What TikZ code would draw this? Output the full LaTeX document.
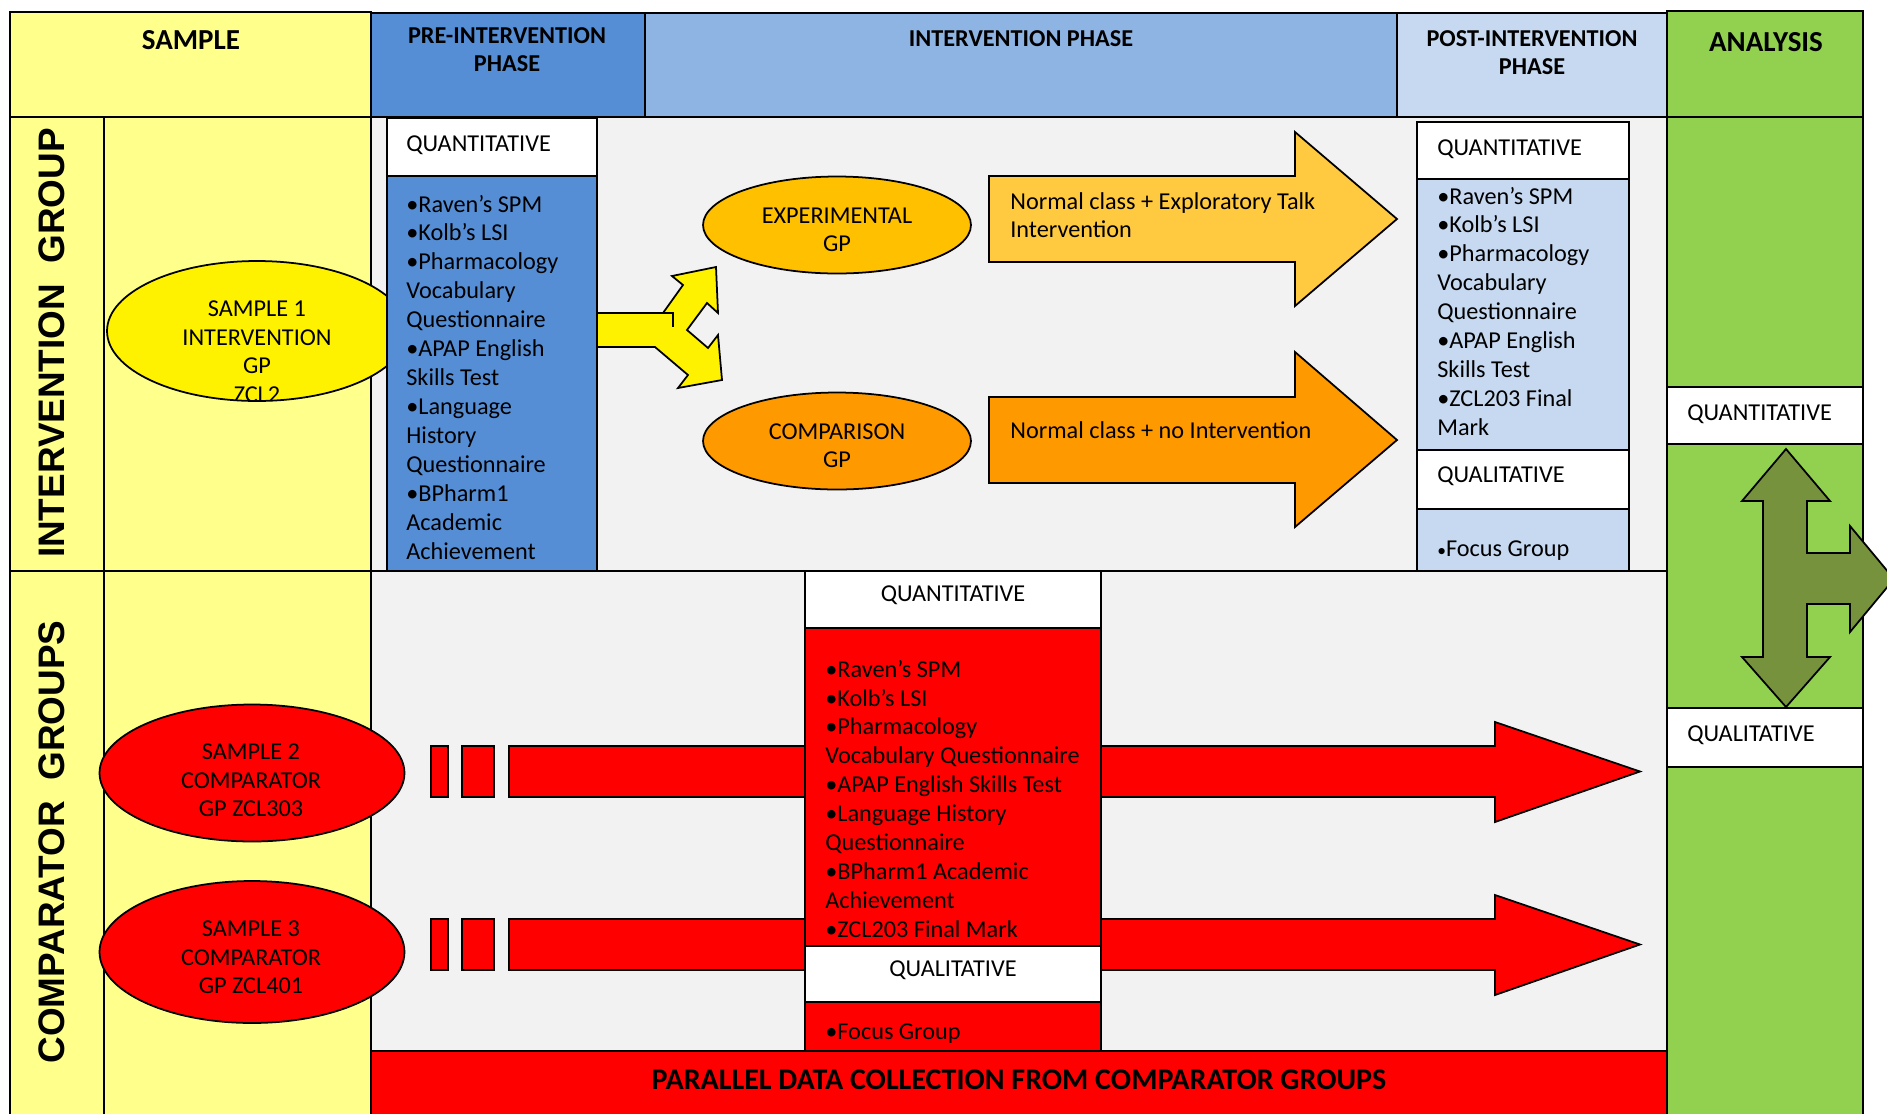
\documentclass[tikz,border=0pt]{standalone}
\usepackage{fontspec}
\setmainfont{Carlito}
\newfontfamily\arialfont{Liberation Sans}
\usetikzlibrary{shapes.geometric}

\definecolor{paleyellow}{HTML}{FFFF8C}
\definecolor{preblue}{HTML}{558ED5}
\definecolor{midblue}{HTML}{8EB4E3}
\definecolor{paleblue}{HTML}{C6D9F1}
\definecolor{panelgray}{HTML}{F2F2F2}
\definecolor{grassgreen}{HTML}{92D050}
\definecolor{olivegreen}{HTML}{76923C}
\definecolor{amber}{HTML}{FFC000}
\definecolor{lightamber}{HTML}{FFC940}
\definecolor{deeporange}{HTML}{FF9900}

\newcommand\txtsize{\fontsize{13.8}{16.5}\selectfont}
\newcommand\headsize{\fontsize{13.8}{15.8}\selectfont\bfseries}
\newcommand\bigsize{\fontsize{16.5}{19}\selectfont\bfseries}
\newcommand\vertsize{\arialfont\bfseries\fontsize{21}{24}\selectfont}

\begin{document}
\begin{tikzpicture}[x=0.02cm, y=-0.02cm,
    grid/.style={draw=black, line width=1.3pt},
    box/.style={draw=black, line width=1pt},
    oval/.style={ellipse, draw=black, line width=1pt, inner sep=0pt},
    txt/.style={font=\txtsize, inner sep=0pt, execute at begin node={\spaceskip=.226em\xspaceskip=.226em\relax}},
    lst/.style={txt, anchor=base west, text width=9cm, align=left},
    ctr/.style={txt, anchor=base, text width=7cm, align=center},
    ttl/.style={font=\headsize, align=center, inner sep=0pt},
    vlabel/.style={font=\vertsize, rotate=90, inner sep=0pt}]

    \useasboundingbox (0,0) rectangle (1887,1113);
    \fill[white] (0,0) rectangle (1887,1113);

    % header row
    \draw[grid, fill=paleyellow] (10,12) rectangle (371,117);
    \draw[grid, fill=preblue] (371,13) rectangle (645,117);
    \draw[grid, fill=midblue] (645,13) rectangle (1397,117);
    \draw[grid, fill=paleblue] (1397,13) rectangle (1667,117);
    \draw[grid, fill=grassgreen] (1667,11) rectangle (1863,117);

    % left columns
    \draw[grid, fill=paleyellow] (10,117) rectangle (104,571);
    \draw[grid, fill=paleyellow] (104,117) rectangle (371,571);
    \draw[grid, fill=paleyellow] (10,571) rectangle (104,1120);
    \draw[grid, fill=paleyellow] (104,571) rectangle (371,1120);

    % panels
    \draw[grid, fill=panelgray] (371,117) rectangle (1667,571);
    \draw[grid, fill=panelgray] (371,571) rectangle (1667,1051);
    \draw[grid, fill=red] (371,1051) rectangle (1667,1120);
    \draw[grid, fill=grassgreen] (1667,117) rectangle (1863,1120);
    \draw[grid, fill=white] (1667,387) rectangle (1863,444);
    \draw[grid, fill=white] (1667,708) rectangle (1863,767);

    % intervention group
    \node[oval, fill=yellow, minimum width=6cm, minimum height=2.8cm,
        path picture={\node[ctr] (sonetxt) at ([yshift=0.3cm]path picture bounding box.center)
            {SAMPLE 1\\INTERVENTION\\GP\\ZCL2};}] (sone) at (257,331) {};

    \draw[box, fill=white] (387,118) rectangle (597,176);
    \draw[box, fill=preblue] (387,176) rectangle (597,571);

    \draw[box, fill=yellow] (597,313) -- (663,313) -- (683,285) -- (672,276) -- (716,267)
        -- (718,313) -- (707,303) -- (687,330) -- (708,348) -- (718,335) -- (722,380)
        -- (678,388) -- (688,375) -- (655,347) -- (597,347) -- cycle;
    \draw[box] (662,313) -- (673,313) -- (673,327);

    \node[oval, fill=amber, minimum width=5.36cm, minimum height=1.94cm] (expgp) at (837,225) {};
    \node[oval, fill=deeporange, minimum width=5.36cm, minimum height=1.94cm] (compgp) at (837,441) {};

    \draw[box, fill=lightamber] (989,176) -- (1295,176) -- (1295,132) -- (1397,219)
        -- (1295,306) -- (1295,262) -- (989,262) -- cycle;
    \draw[box, fill=deeporange] (989,397) -- (1295,397) -- (1295,352) -- (1397,440)
        -- (1295,527) -- (1295,483) -- (989,483) -- cycle;

    \draw[box, fill=white] (1417,122) rectangle (1629,179);
    \draw[box, fill=paleblue] (1417,179) rectangle (1629,450);
    \draw[box, fill=white] (1417,450) rectangle (1629,509);
    \draw[box, fill=paleblue] (1417,509) rectangle (1629,571);

    % comparator groups
    \foreach \y in {746,919} {
        \draw[box, fill=red] (431,\y) rectangle (448,\y+51);
        \draw[box, fill=red] (462,\y) rectangle (494,\y+51);
        \draw[box, fill=red] (509,\y) -- (1495,\y) -- (1495,\y-24) -- (1640,\y+25.5)
            -- (1495,\y+76) -- (1495,\y+51) -- (509,\y+51) -- cycle;
    }

    \draw[box, fill=white] (805,571) rectangle (1101,628);
    \draw[box, fill=red] (805,628) rectangle (1101,946);
    \draw[box, fill=white] (805,946) rectangle (1101,1002);
    \draw[box, fill=red] (805,1002) rectangle (1101,1051);

    \node[oval, fill=red, minimum width=6.1cm, minimum height=2.74cm] (stwo) at (252,773) {};
    \node[oval, fill=red, minimum width=6.1cm, minimum height=2.84cm] (sthree) at (252,952) {};

    % analysis
    \draw[box, fill=olivegreen] (1786,449) -- (1830,501) -- (1807,501) -- (1807,553)
        -- (1850,553) -- (1850,526) -- (1894,579) -- (1850,632) -- (1850,604)
        -- (1807,604) -- (1807,657) -- (1830,657) -- (1786,707) -- (1742,657)
        -- (1763,657) -- (1763,501) -- (1742,501) -- cycle;

    % texts
    \node[ttl, font=\bigsize] (samplehd) at (191,40) {SAMPLE};
    \node[ttl] (prehd) at (507,50) {PRE-INTERVENTION\\PHASE};
    \node[ttl] (inthd) at (1021,39) {INTERVENTION PHASE};
    \node[ttl] (posthd) at (1532,53) {POST-INTERVENTION\\PHASE};
    \node[ttl, font=\bigsize] (anahd) at (1766,42) {ANALYSIS};

    \node[vlabel] (intgrp) at (52,343) {INTERVENTION\ \ GROUP};
    \node[vlabel] (compgrp) at (52,842) {COMPARATOR\ \ GROUPS};

    \node[lst] (prequant) at (406,151) {QUANTITATIVE};
    \node[lst] (prelist) at (406,212) {•Raven's SPM\\•Kolb's LSI\\•Pharmacology\\Vocabulary\\Questionnaire\\•APAP English\\Skills Test\\•Language\\History\\Questionnaire\\•BPharm1\\Academic\\Achievement};

    \node[ctr] (exptxt) at (837,223) {EXPERIMENTAL\\GP};
    \node[ctr] (comptxt) at (837,439) {COMPARISON\\GP};
    \node[lst] (exparrow) at (1010,209) {Normal class + Exploratory Talk\\Intervention};
    \node[lst] (comparrow) at (1010,438) {Normal class + no Intervention};

    \node[lst] (postquant) at (1437,155) {QUANTITATIVE};
    \node[lst] (postlist) at (1437,204) {•Raven's SPM\\•Kolb's LSI\\•Pharmacology\\Vocabulary\\Questionnaire\\•APAP English\\Skills Test\\•ZCL203 Final\\Mark};
    \node[lst] (postqual) at (1437,482) {QUALITATIVE};
    \node[lst] (postfocus) at (1437,556) {{\fontsize{10}{10}\selectfont•}Focus Group};

    \node[ctr] (stwotxt) at (251,759) {SAMPLE 2\\COMPARATOR\\GP ZCL303};
    \node[ctr] (sthreetxt) at (251,936) {SAMPLE 3\\COMPARATOR\\GP ZCL401};

    \node[txt] (cquant) at (953,595) {QUANTITATIVE};
    \node[lst] (clist) at (825,677) {•Raven's SPM\\•Kolb's LSI\\•Pharmacology\\Vocabulary Questionnaire\\•APAP English Skills Test\\•Language History\\Questionnaire\\•BPharm1 Academic\\Achievement\\•ZCL203 Final Mark};
    \node[txt] (cqual) at (953,970) {QUALITATIVE};
    \node[lst] (cfocus) at (825,1039) {•Focus Group};

    \node[lst] (aquant) at (1687,420) {QUANTITATIVE};
    \node[lst] (aqual) at (1687,741) {QUALITATIVE};

    \node[ttl, font=\fontsize{17.1}{19}\selectfont\bfseries] (parallel) at (1019,1080) {PARALLEL DATA COLLECTION FROM COMPARATOR GROUPS};

\end{tikzpicture}
\end{document}
